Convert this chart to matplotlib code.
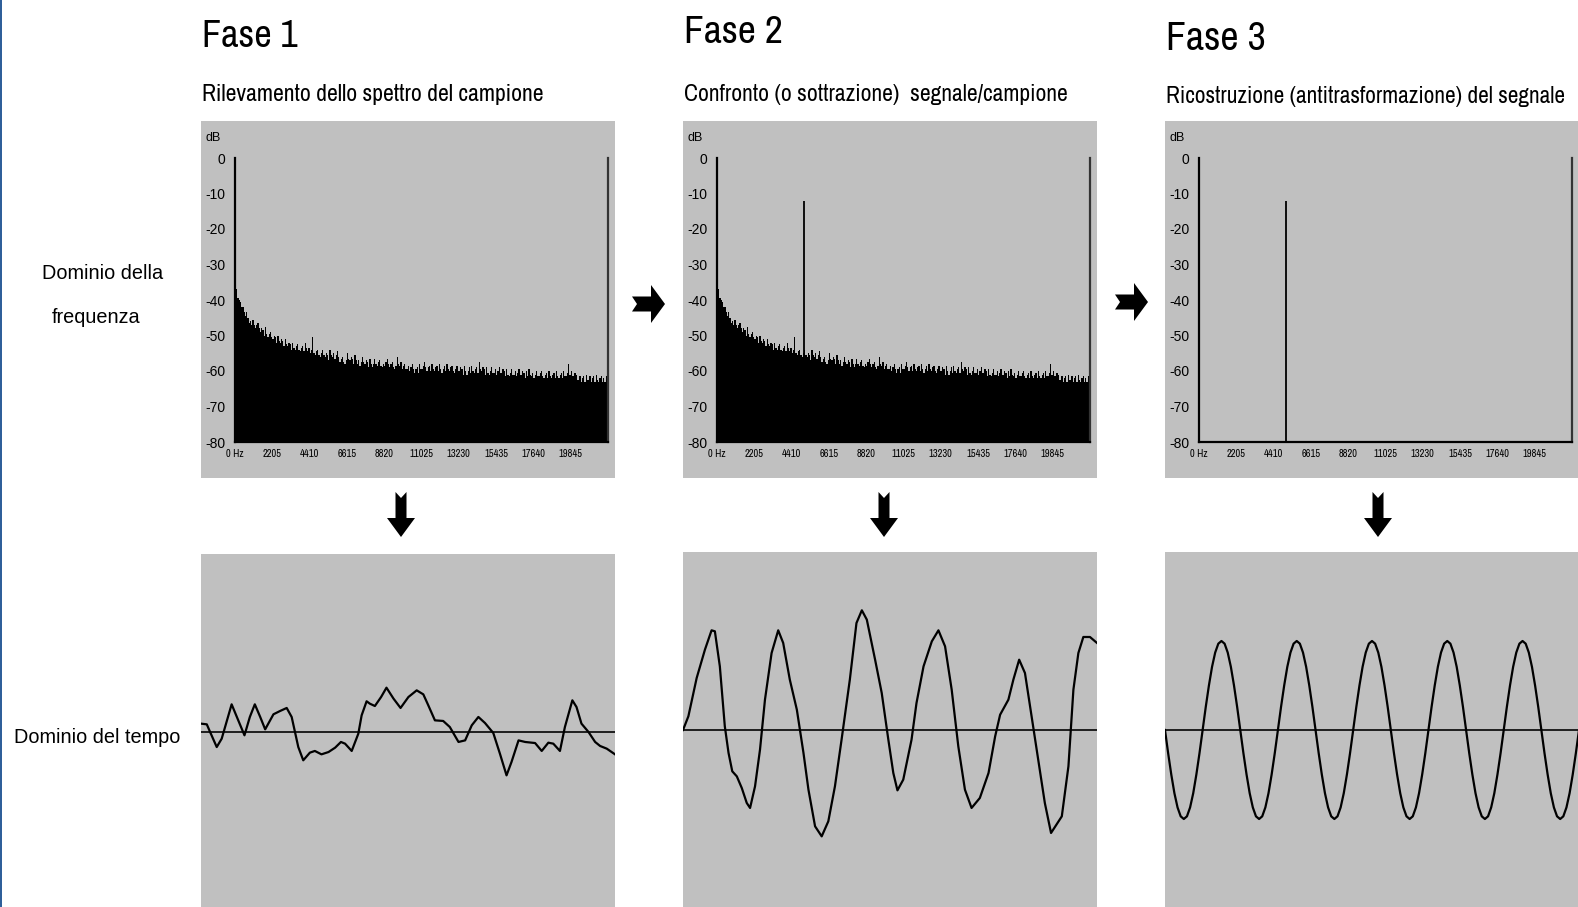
import numpy as np
import matplotlib
matplotlib.use("Agg")
import matplotlib.pyplot as plt
from matplotlib.patches import Polygon, Rectangle

W, H = 1578, 907

# ---------------------------------------------------------------- data
PHASE_TITLES = ["Fase 1", "Fase 2", "Fase 3"]
PHASE_SUBTITLES = [
    "Rilevamento dello spettro del campione",
    "Confronto (o sottrazione)  segnale/campione",
    "Ricostruzione (antitrasformazione) del segnale",
]
ROW_LABELS = ["Dominio della\nfrequenza", "Dominio del tempo"]

FREQ_TICKS = [0, 2205, 4410, 6615, 8820, 11025, 13230, 15435, 17640, 19845]
FREQ_TICK_LABELS = ["0 Hz", "2205", "4410", "6615", "8820", "11025",
                    "13230", "15435", "17640", "19845"]
DB_TICKS = [0, -10, -20, -30, -40, -50, -60, -70, -80]
NYQUIST = 22050
DB_FLOOR = -80

# noise spectrum of the sample (dB per band, 300 bands from 0 to 22050 Hz)
noise_db = [
    -33.5, -37.0, -39.5, -40.0, -40.5, -42.0, -42.0, -43.5, -44.5, -43.5,
    -45.0, -46.5, -46.0, -47.0, -45.5, -47.0, -48.0, -47.0, -46.5, -48.0,
    -49.0, -48.0, -48.5, -50.0, -47.5, -49.5, -50.5, -49.5, -49.0, -50.5,
    -51.0, -50.0, -50.5, -52.0, -50.0, -51.5, -52.0, -51.0, -51.5, -53.0,
    -51.0, -52.5, -53.0, -52.0, -52.5, -54.0, -52.0, -53.5, -54.0, -53.0,
    -52.5, -54.0, -54.5, -53.5, -53.0, -54.5, -52.0, -53.5, -54.5, -53.5,
    -55.0, -54.0, -50.5, -55.0, -55.5, -54.5, -54.0, -55.5, -56.0, -55.0,
    -54.0, -55.5, -56.0, -55.0, -55.5, -57.0, -54.0, -55.5, -56.0, -55.0,
    -56.5, -55.5, -54.5, -56.0, -57.5, -56.5, -56.0, -57.5, -58.0, -57.0,
    -55.0, -56.5, -57.0, -56.0, -56.5, -58.0, -55.5, -57.0, -58.0, -57.0,
    -58.5, -57.5, -56.0, -57.5, -58.0, -57.0, -57.5, -59.0, -56.5, -58.0,
    -59.0, -58.0, -56.5, -58.0, -58.5, -57.5, -57.0, -58.5, -59.0, -58.0,
    -58.5, -57.5, -56.5, -58.0, -59.0, -58.0, -57.5, -59.0, -59.5, -58.5,
    -56.0, -58.0, -58.5, -57.5, -59.5, -58.5, -58.0, -59.5, -59.5, -58.5,
    -60.0, -59.0, -58.0, -59.5, -60.5, -59.5, -59.0, -60.5, -58.0, -59.5,
    -59.5, -58.5, -57.5, -59.0, -60.0, -59.0, -58.5, -60.0, -58.0, -59.5,
    -60.0, -59.0, -58.5, -60.0, -58.0, -59.5, -60.5, -59.5, -58.5, -60.0,
    -58.0, -59.5, -60.0, -59.0, -58.5, -60.0, -60.5, -59.5, -58.5, -60.0,
    -60.0, -59.0, -59.5, -61.0, -58.5, -60.0, -61.0, -60.0, -59.0, -60.5,
    -58.5, -60.0, -60.5, -59.5, -59.0, -60.5, -57.5, -59.5, -60.0, -59.0,
    -59.5, -61.0, -59.0, -60.5, -61.0, -60.0, -59.0, -60.5, -60.5, -59.5,
    -61.0, -60.0, -59.0, -60.5, -60.5, -59.5, -60.0, -61.5, -59.5, -61.0,
    -61.5, -60.5, -59.5, -61.0, -61.0, -60.0, -61.5, -60.5, -59.5, -61.0,
    -61.0, -60.0, -60.5, -62.0, -60.0, -61.5, -59.5, -61.0, -61.5, -60.5,
    -62.0, -61.0, -60.0, -61.5, -61.5, -60.5, -60.0, -61.5, -62.0, -61.0,
    -60.5, -62.0, -60.0, -61.5, -62.0, -61.0, -60.5, -62.0, -60.0, -61.5,
    -62.0, -61.0, -60.5, -62.0, -60.0, -61.5, -61.5, -60.5, -58.0, -61.0,
    -60.0, -61.5, -61.5, -60.5, -61.0, -62.5, -62.5, -61.5, -63.0, -62.0,
    -61.5, -63.0, -61.0, -62.5, -62.5, -61.5, -63.0, -62.0, -61.5, -63.0,
    -61.0, -62.5, -63.0, -62.0, -61.5, -63.0, -62.0, -63.0, -61.5, -62.5,
]

# pure tone of the signal
TONE_HZ = 5120
TONE_DB = -12

# time-domain traces (time normalised to the window, amplitude relative to the tone)
noise_t = [0.000, 0.014, 0.022, 0.038, 0.050, 0.074, 0.090, 0.105, 0.118, 0.130,
           0.143, 0.155, 0.175, 0.191, 0.207, 0.219, 0.227, 0.235, 0.247, 0.263,
           0.275, 0.291, 0.308, 0.324, 0.338, 0.348, 0.364, 0.380, 0.388, 0.400,
           0.408, 0.420, 0.435, 0.448, 0.465, 0.482, 0.501, 0.521, 0.537, 0.549,
           0.565, 0.585, 0.601, 0.622, 0.638, 0.654, 0.670, 0.686, 0.706, 0.722,
           0.738, 0.750, 0.767, 0.783, 0.807, 0.823, 0.839, 0.851, 0.867, 0.879,
           0.897, 0.907, 0.919, 0.936, 0.952, 0.964, 0.980, 1.000]
noise_amp = [0.094, 0.086, 0.000, -0.169, -0.075, 0.311, 0.131, -0.037, 0.169, 0.311,
             0.169, 0.030, 0.199, 0.236, 0.270, 0.169, 0.000, -0.169, -0.318, -0.232,
             -0.213, -0.251, -0.225, -0.176, -0.112, -0.131, -0.213, -0.019, 0.187, 0.345,
             0.318, 0.292, 0.393, 0.498, 0.375, 0.270, 0.393, 0.468, 0.423, 0.300,
             0.131, 0.124, 0.056, -0.112, -0.094, 0.075, 0.169, 0.101, -0.011, -0.243,
             -0.487, -0.337, -0.094, -0.112, -0.124, -0.213, -0.120, -0.131, -0.213, 0.056,
             0.356, 0.281, 0.094, 0.000, -0.112, -0.157, -0.187, -0.251]

mixed_t = [0.000, 0.013, 0.033, 0.053, 0.069, 0.077, 0.089, 0.101, 0.110, 0.119,
           0.130, 0.142, 0.154, 0.162, 0.174, 0.186, 0.198, 0.214, 0.230, 0.242,
           0.258, 0.275, 0.291, 0.303, 0.319, 0.335, 0.351, 0.367, 0.383, 0.403,
           0.419, 0.432, 0.444, 0.464, 0.480, 0.496, 0.508, 0.518, 0.532, 0.552,
           0.564, 0.581, 0.601, 0.617, 0.633, 0.649, 0.665, 0.681, 0.697, 0.717,
           0.738, 0.754, 0.766, 0.786, 0.798, 0.812, 0.826, 0.842, 0.858, 0.874,
           0.889, 0.915, 0.931, 0.943, 0.955, 0.967, 0.983, 1.000]
mixed_amp = [0.000, 0.154, 0.584, 0.903, 1.120, 1.109, 0.715, 0.041, -0.258, -0.464,
             -0.521, -0.652, -0.820, -0.876, -0.633, -0.221, 0.341, 0.865, 1.120, 0.978,
             0.566, 0.228, -0.258, -0.670, -1.082, -1.195, -1.026, -0.633, -0.109, 0.566,
             1.202, 1.345, 1.240, 0.790, 0.416, -0.109, -0.483, -0.678, -0.558, -0.109,
             0.303, 0.715, 0.996, 1.120, 0.940, 0.453, -0.184, -0.670, -0.876, -0.764,
             -0.483, -0.071, 0.172, 0.341, 0.566, 0.790, 0.640, 0.154, -0.333, -0.820,
             -1.157, -0.970, -0.408, 0.453, 0.865, 1.045, 1.045, 0.978]

# reconstructed tone: 5.5 periods, 24 samples per period
tone_amp = [
    0.00, -0.26, -0.50, -0.71, -0.87, -0.97, -1.00, -0.97, -0.87, -0.71, -0.50, -0.26,
    0.00, 0.26, 0.50, 0.71, 0.87, 0.97, 1.00, 0.97, 0.87, 0.71, 0.50, 0.26,
    0.00, -0.26, -0.50, -0.71, -0.87, -0.97, -1.00, -0.97, -0.87, -0.71, -0.50, -0.26,
    0.00, 0.26, 0.50, 0.71, 0.87, 0.97, 1.00, 0.97, 0.87, 0.71, 0.50, 0.26,
    0.00, -0.26, -0.50, -0.71, -0.87, -0.97, -1.00, -0.97, -0.87, -0.71, -0.50, -0.26,
    0.00, 0.26, 0.50, 0.71, 0.87, 0.97, 1.00, 0.97, 0.87, 0.71, 0.50, 0.26,
    0.00, -0.26, -0.50, -0.71, -0.87, -0.97, -1.00, -0.97, -0.87, -0.71, -0.50, -0.26,
    0.00, 0.26, 0.50, 0.71, 0.87, 0.97, 1.00, 0.97, 0.87, 0.71, 0.50, 0.26,
    0.00, -0.26, -0.50, -0.71, -0.87, -0.97, -1.00, -0.97, -0.87, -0.71, -0.50, -0.26,
    0.00, 0.26, 0.50, 0.71, 0.87, 0.97, 1.00, 0.97, 0.87, 0.71, 0.50, 0.26,
    0.00, -0.26, -0.50, -0.71, -0.87, -0.97, -1.00, -0.97, -0.87, -0.71, -0.50, -0.26,
    0.00,
]

# ---------------------------------------------------------------- styling
PANEL_GREY = "#c0c0c0"
NARROW = ["Archivo Narrow", "DejaVu Sans"]
REGULAR = ["Liberation Sans", "DejaVu Sans"]

fig = plt.figure(figsize=(W / 100, H / 100), dpi=100, facecolor="white")
renderer = fig.canvas.get_renderer()


def fx(x):
    return x / W


def fy(y):
    return 1 - y / H


def add_panel(left, top, right, bottom):
    return fig.add_axes([fx(left), fy(bottom), (right - left) / W, (bottom - top) / H])


def fit_width(text, width_px):
    """Scale a text's font size so that it spans the given width in pixels."""
    bb = text.get_window_extent(renderer)
    text.set_fontsize(text.get_fontsize() * width_px / bb.width)


# thin blue frame on the left edge
fig.add_artist(Rectangle((0, 0), fx(2), 1, transform=fig.transFigure,
                         color="#2f5f9a", lw=0))

panel_lefts = [201, 683, 1165]
PANEL_W = 414

# ------------------------------------------------------------ spectra
edges = np.linspace(0, NYQUIST, len(noise_db) + 1)
px_per_hz = 373 / NYQUIST
px_per_db = 284 / 80

for k, left in enumerate(panel_lefts):
    ax = add_panel(left, 121, left + PANEL_W, 478)
    ax.set_facecolor(PANEL_GREY)
    ax.set_xlim(-34 / px_per_hz, (PANEL_W - 34) / px_per_hz)
    ax.set_ylim(DB_FLOOR - 36 / px_per_db, 37 / px_per_db)

    if k < 2:
        ax.stairs(noise_db, edges, baseline=DB_FLOOR, fill=True,
                  color="black", lw=0)
    if k > 0:
        ax.vlines(TONE_HZ, DB_FLOOR, TONE_DB, color="black", lw=1.3)

    ax.spines["top"].set_visible(False)
    ax.spines["left"].set_position(("data", 0))
    ax.spines["left"].set_bounds(DB_FLOOR, 0)
    ax.spines["bottom"].set_position(("data", DB_FLOOR))
    ax.spines["bottom"].set_bounds(0, NYQUIST)
    ax.spines["right"].set_position(("data", NYQUIST))
    ax.spines["right"].set_bounds(DB_FLOOR, 0)
    for side in ("left", "bottom"):
        ax.spines[side].set_linewidth(1.6)
        ax.spines[side].set_color("black")
    ax.spines["right"].set_linewidth(1.6)
    ax.spines["right"].set_color("#333333")

    ax.set_yticks(DB_TICKS)
    ax.set_yticklabels([str(v) for v in DB_TICKS], family=REGULAR, fontsize=10)
    ax.set_xticks(FREQ_TICKS)
    ax.set_xticklabels(FREQ_TICK_LABELS, family=NARROW, fontstretch="condensed",
                       fontsize=7.5)
    ax.tick_params(axis="y", length=0, pad=7)
    ax.tick_params(axis="x", length=0, pad=5)
    ax.text(-1300, 5.6, "dB", family=REGULAR, fontsize=9, ha="center", va="center")

# ------------------------------------------------------------ waveforms
traces = [
    (noise_t, noise_amp),
    (mixed_t, mixed_amp),
    (np.linspace(0, 1, len(tone_amp)), tone_amp),
]
wave_tops = [554, 552, 552]
zero_rows = [732, 730, 730]
PX_PER_UNIT = 89

for left, top, zero, (t, a) in zip(panel_lefts, wave_tops, zero_rows, traces):
    ax = add_panel(left, top, left + PANEL_W, H)
    ax.set_facecolor(PANEL_GREY)
    ax.set_xlim(0, 1)
    ax.set_ylim(-(H - zero) / PX_PER_UNIT, (zero - top) / PX_PER_UNIT)
    ax.axhline(0, color="#111111", lw=1.3)
    ax.plot(t, a, color="black", lw=1.6, solid_joinstyle="round")
    ax.set_xticks([])
    ax.set_yticks([])
    for s in ax.spines.values():
        s.set_visible(False)

# ------------------------------------------------------------ texts
title_baselines = [47, 43, 50]
title_widths = [96, 99, 100]
sub_baselines = [101, 101, 103]
sub_widths = [342, 384, 400]
for left, title, tb, tw, sub, sb, sw in zip(panel_lefts, PHASE_TITLES, title_baselines,
                                             title_widths, PHASE_SUBTITLES,
                                             sub_baselines, sub_widths):
    t = fig.text(fx(left + 1), fy(tb), title, family=NARROW, fontstretch="condensed",
                 fontsize=27, ha="left", va="baseline")
    fit_width(t, tw)
    s = fig.text(fx(left + 1), fy(sb), sub, family=NARROW, fontstretch="condensed",
                 fontsize=16.5, ha="left", va="baseline")
    fit_width(s, sw)

freq_lines = ROW_LABELS[0].split("\n")
fig.text(fx(42), fy(279), freq_lines[0], family=REGULAR, fontsize=14.3,
         ha="left", va="baseline")
fig.text(fx(52), fy(323), freq_lines[1], family=REGULAR, fontsize=14.3,
         ha="left", va="baseline")
fig.text(fx(14), fy(743), ROW_LABELS[1], family=REGULAR, fontsize=14.3,
         ha="left", va="baseline")

# ------------------------------------------------------------ arrows
right_arrow = [(0, -7.5), (19, -7.5), (19, -19), (33, 0), (19, 19),
               (19, 7.5), (0, 7.5), (5, 0)]
down_arrow = [(-5.5, 0), (0, 6), (5.5, 0), (5.5, 26), (14, 26), (0, 45),
              (-14, 26), (-5.5, 26)]

for ox, oy in [(632, 304), (1115, 302)]:
    pts = [(fx(ox + dx), fy(oy + dy)) for dx, dy in right_arrow]
    fig.add_artist(Polygon(pts, closed=True, transform=fig.transFigure,
                           color="black", lw=0))
for ox, oy in [(401, 492), (884, 492), (1378, 492)]:
    pts = [(fx(ox + dx), fy(oy + dy)) for dx, dy in down_arrow]
    fig.add_artist(Polygon(pts, closed=True, transform=fig.transFigure,
                           color="black", lw=0))

fig.savefig("out.png", dpi=100, facecolor="white")
